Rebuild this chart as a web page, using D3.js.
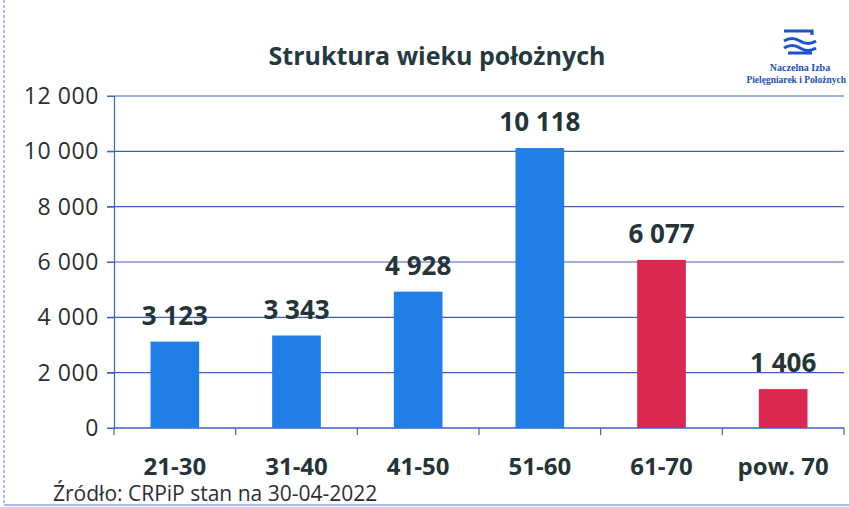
<!DOCTYPE html>
<html>
<head>
<meta charset="utf-8">
<script src="https://cdn.jsdelivr.net/npm/d3@7"></script>
<style>
  body { margin: 0; background: #fff; }
  svg { display: block; font-family: "Open Sans", "DejaVu Sans", sans-serif; }
</style>
</head>
<body>
<div id="chart"></div>
<script>
const categories = ["21-30", "31-40", "41-50", "51-60", "61-70", "pow. 70"];
const values = [3123, 3343, 4928, 10118, 6077, 1406];
const barColors = ["#1f7fe6", "#1f7fe6", "#1f7fe6", "#1f7fe6", "#dc2851", "#dc2851"];
const yTicks = [0, 2000, 4000, 6000, 8000, 10000, 12000];

const width = 849;
const height = 507;
const margin = { top: 96, right: 5, bottom: 79, left: 114 };

const pl = d3.formatLocale({ decimal: ",", thousands: " ", grouping: [3], currency: ["", " zł"] });
const fmt = pl.format(",");

const svg = d3
  .select("#chart")
  .append("svg")
  .attr("width", width)
  .attr("height", height);

// frame of the slide
svg.append("line").attr("x1", 4).attr("x2", 4).attr("y1", 0).attr("y2", 505)
  .attr("stroke", "#8fa3d8").attr("stroke-width", 1.5).attr("stroke-dasharray", "3,2");
svg.append("line").attr("x1", 4).attr("x2", 849).attr("y1", 505).attr("y2", 505)
  .attr("stroke", "#8fa3d8").attr("stroke-width", 1.5);

const x = d3
  .scaleBand()
  .domain(categories)
  .range([margin.left, width - margin.right])
  .paddingInner(0.6)
  .paddingOuter(0.3);

const y = d3
  .scaleLinear()
  .domain([0, 12000])
  .range([height - margin.bottom, margin.top]);

// gridlines
svg
  .append("g")
  .selectAll("line")
  .data(yTicks)
  .enter()
  .append("line")
  .attr("x1", margin.left - 7)
  .attr("x2", width - margin.right)
  .attr("y1", (d) => y(d))
  .attr("y2", (d) => y(d))
  .attr("stroke", "#3f5fc4")
  .attr("stroke-width", 1.2);

// y axis
const yAxis = svg
  .append("g")
  .attr("transform", `translate(${margin.left}, 0)`)
  .call(d3.axisLeft(y).tickValues(yTicks).tickFormat(fmt).tickSize(7).tickPadding(8));
yAxis.select(".domain").attr("stroke", "#3f5fc4").attr("stroke-width", 1.2);
yAxis.selectAll(".tick line").attr("stroke", "#3f5fc4");
yAxis.selectAll("text")
  .attr("font-size", 23)
  .attr("letter-spacing", 0.6)
  .attr("fill", "#2a2f33")
  .attr("font-family", "'Open Sans', sans-serif");

// x axis with ticks at band boundaries
const step = x.step();
const bounds = d3.range(categories.length + 1).map((i) => margin.left + i * step);
svg.append("line")
  .attr("x1", margin.left).attr("x2", width - margin.right)
  .attr("y1", y(0)).attr("y2", y(0))
  .attr("stroke", "#3f5fc4").attr("stroke-width", 1.2);
svg.append("g")
  .selectAll("line")
  .data(bounds)
  .enter()
  .append("line")
  .attr("x1", (d) => d).attr("x2", (d) => d)
  .attr("y1", y(0)).attr("y2", y(0) + 7)
  .attr("stroke", "#3f5fc4").attr("stroke-width", 1.2);

svg.append("g")
  .selectAll("text")
  .data(categories)
  .enter()
  .append("text")
  .attr("x", (d) => x(d) + x.bandwidth() / 2)
  .attr("y", y(0) + 47)
  .attr("text-anchor", "middle")
  .attr("font-size", 24)
  .attr("font-weight", "bold")
  .attr("fill", "#243438")
  .text((d) => d);

// bars
svg
  .selectAll("rect.bar")
  .data(values)
  .enter()
  .append("rect")
  .attr("class", "bar")
  .attr("x", (d, i) => x(categories[i]))
  .attr("y", (d) => y(d))
  .attr("width", x.bandwidth())
  .attr("height", (d) => y(0) - y(d))
  .attr("fill", (d, i) => barColors[i]);

// value labels
svg
  .selectAll("text.val")
  .data(values)
  .enter()
  .append("text")
  .attr("class", "val")
  .attr("x", (d, i) => x(categories[i]) + x.bandwidth() / 2)
  .attr("y", (d) => y(d) - 17)
  .attr("text-anchor", "middle")
  .attr("font-size", 26)
  .attr("font-weight", "bold")
  .attr("fill", "#243438")
  .text((d) => fmt(d));

// title
svg.append("text")
  .attr("x", 437)
  .attr("y", 65)
  .attr("text-anchor", "middle")
  .attr("font-size", 25)
  .attr("font-weight", "bold")
  .attr("fill", "#243a3e")
  .text("Struktura wieku położnych");

// source
svg.append("text")
  .attr("x", 53)
  .attr("y", 501)
  .attr("font-size", 21)
  .attr("fill", "#2a2f33")
  .text("Źródło: CRPiP stan na 30-04-2022");

// logo
const logo = svg.append("g").attr("transform", "translate(800, 42)");
logo.append("path")
  .attr("d", "M-16,-11 L12,-11 L12,-7 M-16,-1 Q-8,-6 0,-1 T16,-1 M-16,6 Q-8,1 0,6 T16,6 M-12,11 L12,11")
  .attr("fill", "none").attr("stroke", "#1a55d0").attr("stroke-width", 3.2);
logo.append("text").attr("x", 0).attr("y", 29).attr("text-anchor", "middle")
  .attr("font-family", "'Liberation Serif', serif").attr("font-size", 10)
  .attr("font-weight", "bold")
  .attr("fill", "#1a4fb8").text("Naczelna Izba");
logo.append("text").attr("x", 46).attr("y", 41).attr("text-anchor", "end")
  .attr("font-family", "'Liberation Serif', serif").attr("font-size", 9.5)
  .attr("font-weight", "bold")
  .attr("fill", "#1a4fb8").text("Pielęgniarek i Położnych");
</script>
</body>
</html>
